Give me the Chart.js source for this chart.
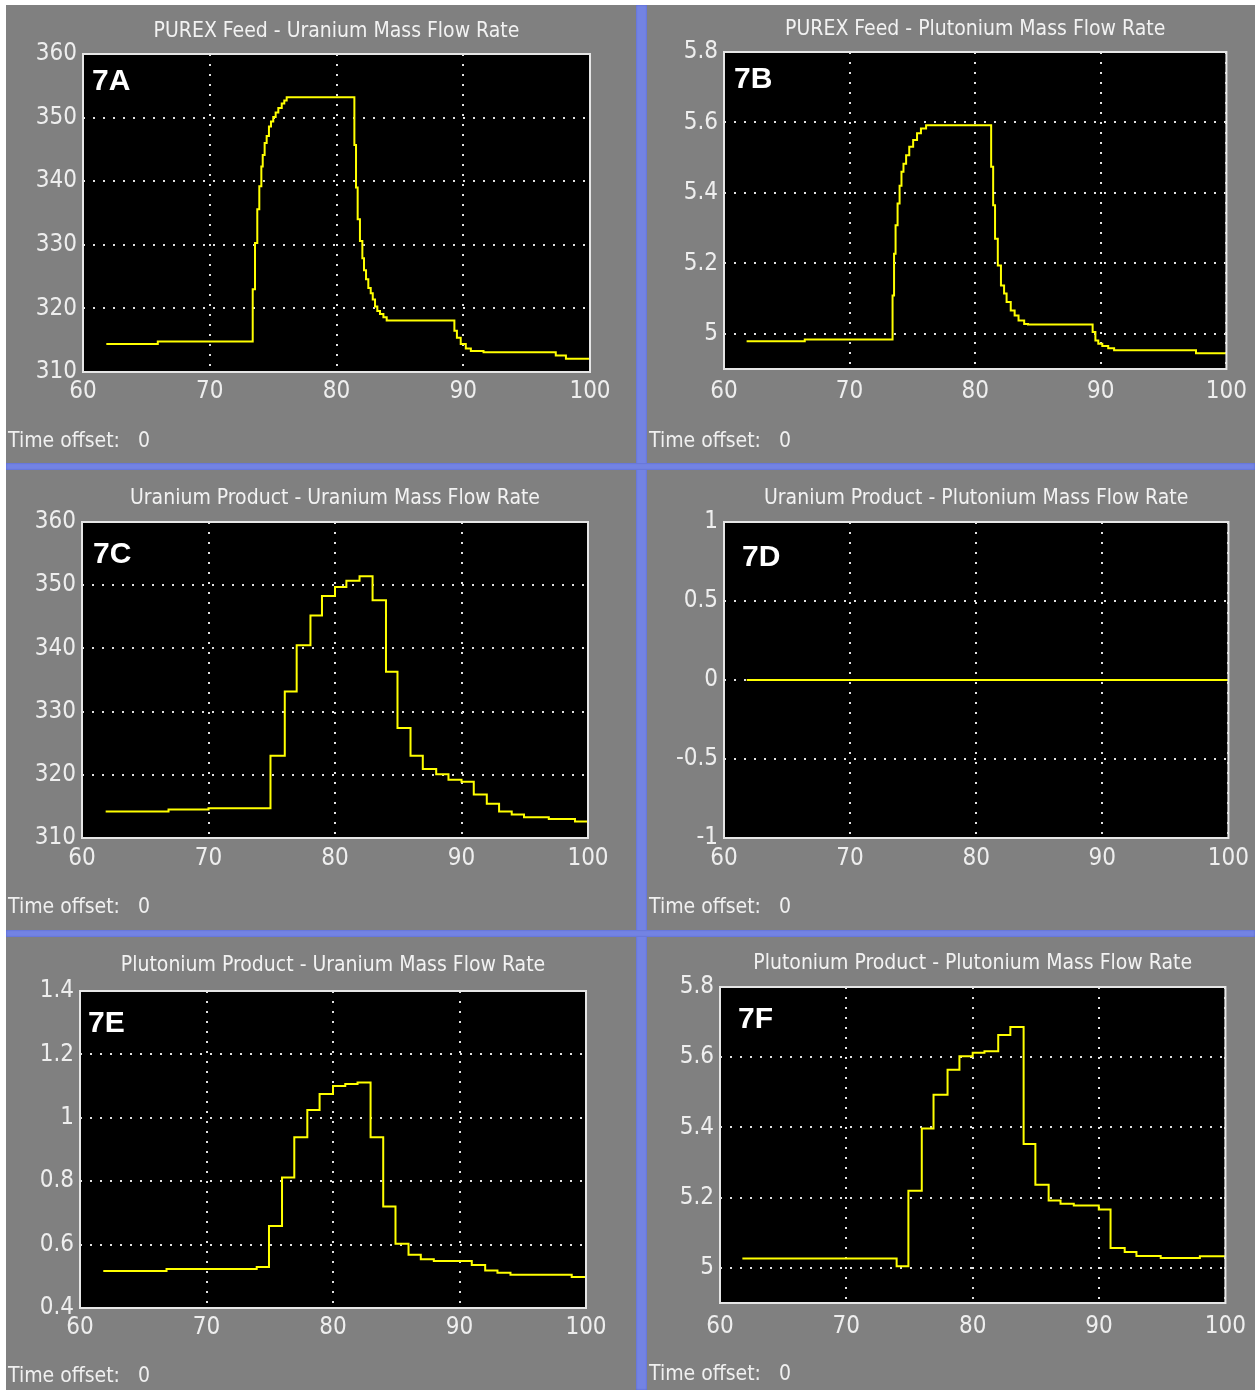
<!DOCTYPE html>
<html>
<head>
<meta charset="utf-8">
<script src="https://cdn.jsdelivr.net/npm/chart.js@4.4.1/dist/chart.umd.min.js"></script>
<style>
  body { margin: 0; background: #fff; }
  #wrap { position: relative; width: 1255px; height: 1390px; overflow: hidden; background: #fff; }
  .panel { position: absolute; background: #808080; overflow: hidden; }
  .panel canvas { position: absolute; left: 0; top: 0; }
  .offset { position: absolute; left: 2px; color: #f0f0f0; font-size: 21px; line-height: 22px;
            font-family: 'Liberation Sans Narrow', 'DejaVu Sans Condensed', 'Liberation Sans', sans-serif; white-space: pre; }
  .sep { position: absolute; background: #7383e3; box-shadow: inset 0 0 2px #4d5cc4; }
</style>
</head>
<body>
<div id="wrap"></div>
<script>
const xTicks = [60, 70, 80, 90, 100];

// 7A - PUREX feed, uranium
const feedUTime = [61.84, 65.9, 73.39, 73.57, 73.75, 73.91, 74.07, 74.18, 74.33, 74.49, 74.67, 74.83, 75.01, 75.2, 75.41, 75.68, 75.88, 76.07,
  81.41, 81.54, 81.67, 81.85, 82.04, 82.17, 82.33, 82.51, 82.7, 82.86, 83.04, 83.22, 83.43, 83.7, 83.96,
  89.3, 89.5, 89.8, 90.2, 90.6, 91.6, 97.3, 98.1, 100];
const feedURate = [314.4, 314.8, 323.0, 330.3, 335.6, 339.2, 342.3, 344.1, 346.0, 347.1, 348.6, 349.4, 350.1, 350.8, 351.5, 352.2, 352.7, 353.2,
  345.7, 339.0, 334.0, 330.6, 327.9, 326.0, 324.6, 323.2, 322.4, 321.4, 320.3, 319.6, 319.1, 318.6, 318.1,
  316.5, 315.4, 314.4, 313.7, 313.3, 313.1, 312.6, 312.1, 312.1];
const feedUTicks = [310, 320, 330, 340, 350, 360];

// 7B - PUREX feed, plutonium
const feedPuTime = [61.8, 66.43, 73.42, 73.54, 73.66, 73.82, 73.98, 74.13, 74.29, 74.5, 74.75, 75.06, 75.37, 75.68, 76.09,
  81.27, 81.43, 81.58, 81.8, 82.05, 82.3, 82.5, 82.83, 83.14, 83.45, 83.9, 84.2,
  89.35, 89.57, 89.8, 90.12, 90.59, 91.06, 97.58, 100];
const feedPuRate = [4.979, 4.984, 5.109, 5.227, 5.308, 5.37, 5.42, 5.46, 5.483, 5.507, 5.531, 5.55, 5.569, 5.583, 5.592,
  5.474, 5.365, 5.27, 5.194, 5.137, 5.114, 5.09, 5.066, 5.052, 5.038, 5.028, 5.026,
  5.005, 4.981, 4.972, 4.965, 4.959, 4.953, 4.945, 4.945];
const feedPuTicks = [5, 5.2, 5.4, 5.6, 5.8];

// 7C - uranium product, uranium
const uProdUTime = [61.87, 66.84, 70.0, 74.9, 76.03, 76.97, 78.06, 78.97, 80.0, 80.9, 81.94, 82.97, 84.03, 84.94, 85.97,
  86.94, 88.0, 88.97, 90.0, 90.97, 92.0, 92.97, 93.97, 94.94, 96.9, 98.97, 100];
const uProdURate = [314.2, 314.5, 314.7, 323.0, 333.2, 340.5, 345.2, 348.3, 349.7, 350.7, 351.4, 347.6, 336.3, 327.4, 323.0,
  320.9, 320.1, 319.2, 318.9, 316.9, 315.4, 314.2, 313.7, 313.3, 313.0, 312.6, 312.6];
const uProdUTicks = [310, 320, 330, 340, 350, 360];

// 7D - uranium product, plutonium
const uProdPuTime = [61.8, 100];
const uProdPuRate = [0, 0];
const uProdPuTicks = [-1, -0.5, 0, 0.5, 1];

// 7E - plutonium product, uranium
const puProdUTime = [61.84, 66.84, 73.97, 74.94, 75.97, 76.94, 77.97, 78.94, 80.0, 80.97, 81.94, 82.97, 83.97, 84.94, 85.97,
  86.94, 87.97, 90.97, 92.03, 93.0, 94.03, 98.87, 100];
const puProdURate = [0.517, 0.523, 0.529, 0.659, 0.812, 0.939, 1.025, 1.075, 1.1, 1.107, 1.111, 0.939, 0.72, 0.603, 0.568,
  0.554, 0.548, 0.536, 0.518, 0.511, 0.505, 0.498, 0.498];
const puProdUTicks = [0.4, 0.6, 0.8, 1, 1.2, 1.4];

// 7F - plutonium product, plutonium
const puProdPuTime = [61.77, 73.98, 74.91, 75.97, 76.9, 78.01, 78.95, 80.0, 80.93, 82.02, 82.98, 84.03, 84.96, 86.01, 86.95,
  88.0, 89.98, 90.91, 92.03, 92.96, 94.88, 97.98, 100];
const puProdPuRate = [5.027, 5.005, 5.22, 5.397, 5.493, 5.564, 5.603, 5.613, 5.617, 5.663, 5.686, 5.353, 5.237, 5.192, 5.183,
  5.178, 5.166, 5.057, 5.045, 5.034, 5.028, 5.033, 5.033];
const puProdPuTicks = [5, 5.2, 5.4, 5.6, 5.8];

const narrow = "'Liberation Sans Narrow', 'DejaVu Sans Condensed', 'Liberation Sans', sans-serif";

// panel box [x, y, w, h], plot area [left, top, right, bottom] inside panel, tag offset from plot corner
const panels = [
  { tag: '7A', title: 'PUREX Feed - Uranium Mass Flow Rate', t: feedUTime, v: feedURate, ticks: feedUTicks, min: 310, max: 360,
    box: [6, 5, 630, 458], area: [77, 49, 584, 367], tagAt: [9, 14], titleY: 27, offY: 424, xPad: 5 },
  { tag: '7B', title: 'PUREX Feed - Plutonium Mass Flow Rate', t: feedPuTime, v: feedPuRate, ticks: feedPuTicks, min: 4.9, max: 5.8,
    box: [647, 5, 608, 458], area: [77, 47, 584, 364], tagAt: [10, 14], titleY: 25, offY: 424, xPad: 8 },
  { tag: '7C', title: 'Uranium Product - Uranium Mass Flow Rate', t: uProdUTime, v: uProdURate, ticks: uProdUTicks, min: 310, max: 360,
    box: [6, 470, 630, 460], area: [76, 52, 582, 368], tagAt: [11, 19], titleY: 29, offY: 425, xPad: 6 },
  { tag: '7D', title: 'Uranium Product - Plutonium Mass Flow Rate', t: uProdPuTime, v: uProdPuRate, ticks: uProdPuTicks, min: -1, max: 1,
    box: [647, 470, 608, 460], area: [77, 52, 583, 368], tagAt: [18, 22], titleY: 29, offY: 425, xPad: 6 },
  { tag: '7E', title: 'Plutonium Product - Uranium Mass Flow Rate', t: puProdUTime, v: puProdURate, ticks: puProdUTicks, min: 0.4, max: 1.4,
    box: [6, 937, 630, 453], area: [74, 54, 580, 371], tagAt: [8, 19], titleY: 29, offY: 427, xPad: 5 },
  { tag: '7F', title: 'Plutonium Product - Plutonium Mass Flow Rate', t: puProdPuTime, v: puProdPuRate, ticks: puProdPuTicks, min: 4.9, max: 5.8,
    box: [647, 937, 608, 453], area: [73, 50, 579, 366], tagAt: [18, 19], titleY: 27, offY: 425, xPad: 9 }
];

const wrap = document.getElementById('wrap');

// blue splitter bars
[[636, 5, 11, 1385], [6, 463, 1249, 7], [6, 930, 1249, 7]].forEach(s => {
  const d = document.createElement('div');
  d.className = 'sep';
  d.style.cssText = `left:${s[0]}px;top:${s[1]}px;width:${s[2]}px;height:${s[3]}px`;
  wrap.appendChild(d);
});

const scopePlugin = {
  id: 'scope',
  beforeDraw(chart) {
    const { ctx, chartArea: a } = chart;
    ctx.save();
    ctx.fillStyle = '#000';
    ctx.fillRect(a.left, a.top, a.right - a.left, a.bottom - a.top);
    ctx.restore();
  },
  afterDraw(chart, args, opts) {
    const { ctx, chartArea: a } = chart;
    ctx.save();
    ctx.strokeStyle = '#e6e6e6';
    ctx.lineWidth = 2;
    ctx.strokeRect(a.left, a.top, a.right - a.left, a.bottom - a.top);
    // title
    ctx.fillStyle = '#f2f2f2';
    ctx.font = '21px ' + narrow;
    ctx.textAlign = 'center';
    ctx.textBaseline = 'middle';
    ctx.fillText(opts.title, (a.left + a.right) / 2, opts.titleY);
    // figure tag
    ctx.fillStyle = '#fff';
    ctx.font = 'bold 30px "Liberation Sans", Arial, sans-serif';
    ctx.textAlign = 'left';
    ctx.textBaseline = 'alphabetic';
    ctx.fillText(opts.tag, a.left + opts.tagAt[0], a.top + opts.tagAt[1] + 21.5);
    ctx.restore();
  }
};

panels.forEach(p => {
  const [bx, by, bw, bh] = p.box;
  const [L, T, R, B] = p.area;
  const div = document.createElement('div');
  div.className = 'panel';
  div.style.cssText = `left:${bx}px;top:${by}px;width:${bw}px;height:${bh}px`;
  const cv = document.createElement('canvas');
  cv.width = bw;
  cv.height = bh;
  div.appendChild(cv);
  const off = document.createElement('div');
  off.className = 'offset';
  off.style.top = p.offY + 'px';
  off.textContent = 'Time offset:   0';
  div.appendChild(off);
  wrap.appendChild(div);

  new Chart(cv, {
    type: 'line',
    data: {
      datasets: [{
        data: p.t.map((x, i) => ({ x: x, y: p.v[i] })),
        borderColor: '#ffff00',
        borderWidth: 2,
        pointRadius: 0,
        stepped: true,
        fill: false
      }]
    },
    options: {
      responsive: false,
      animation: false,
      layout: { padding: { left: 0, top: T, right: bw - R, bottom: 0 } },
      plugins: {
        legend: { display: false },
        tooltip: { enabled: false },
        scope: { title: p.title, titleY: p.titleY, tag: p.tag, tagAt: p.tagAt }
      },
      scales: {
        x: {
          type: 'linear', min: 60, max: 100,
          afterBuildTicks: s => { s.ticks = xTicks.map(v => ({ value: v })); },
          afterFit: s => { s.height = bh - B; },
          grid: { color: '#e0e0e0', lineWidth: 2, drawTicks: false },
          border: { display: false, dash: [2, 8] },
          ticks: { color: '#eeeeee', padding: p.xPad, maxRotation: 0, font: { family: narrow, size: 24 } }
        },
        y: {
          type: 'linear', min: p.min, max: p.max,
          afterBuildTicks: s => { s.ticks = p.ticks.map(v => ({ value: v })); },
          afterFit: s => { s.width = L; },
          grid: { color: '#e0e0e0', lineWidth: 2, drawTicks: false },
          border: { display: false, dash: [2, 8] },
          ticks: { color: '#eeeeee', padding: 6, font: { family: narrow, size: 24 },
                   callback: v => String(+v.toFixed(2)) }
        }
      }
    },
    plugins: [scopePlugin]
  });
});
</script>
</body>
</html>
